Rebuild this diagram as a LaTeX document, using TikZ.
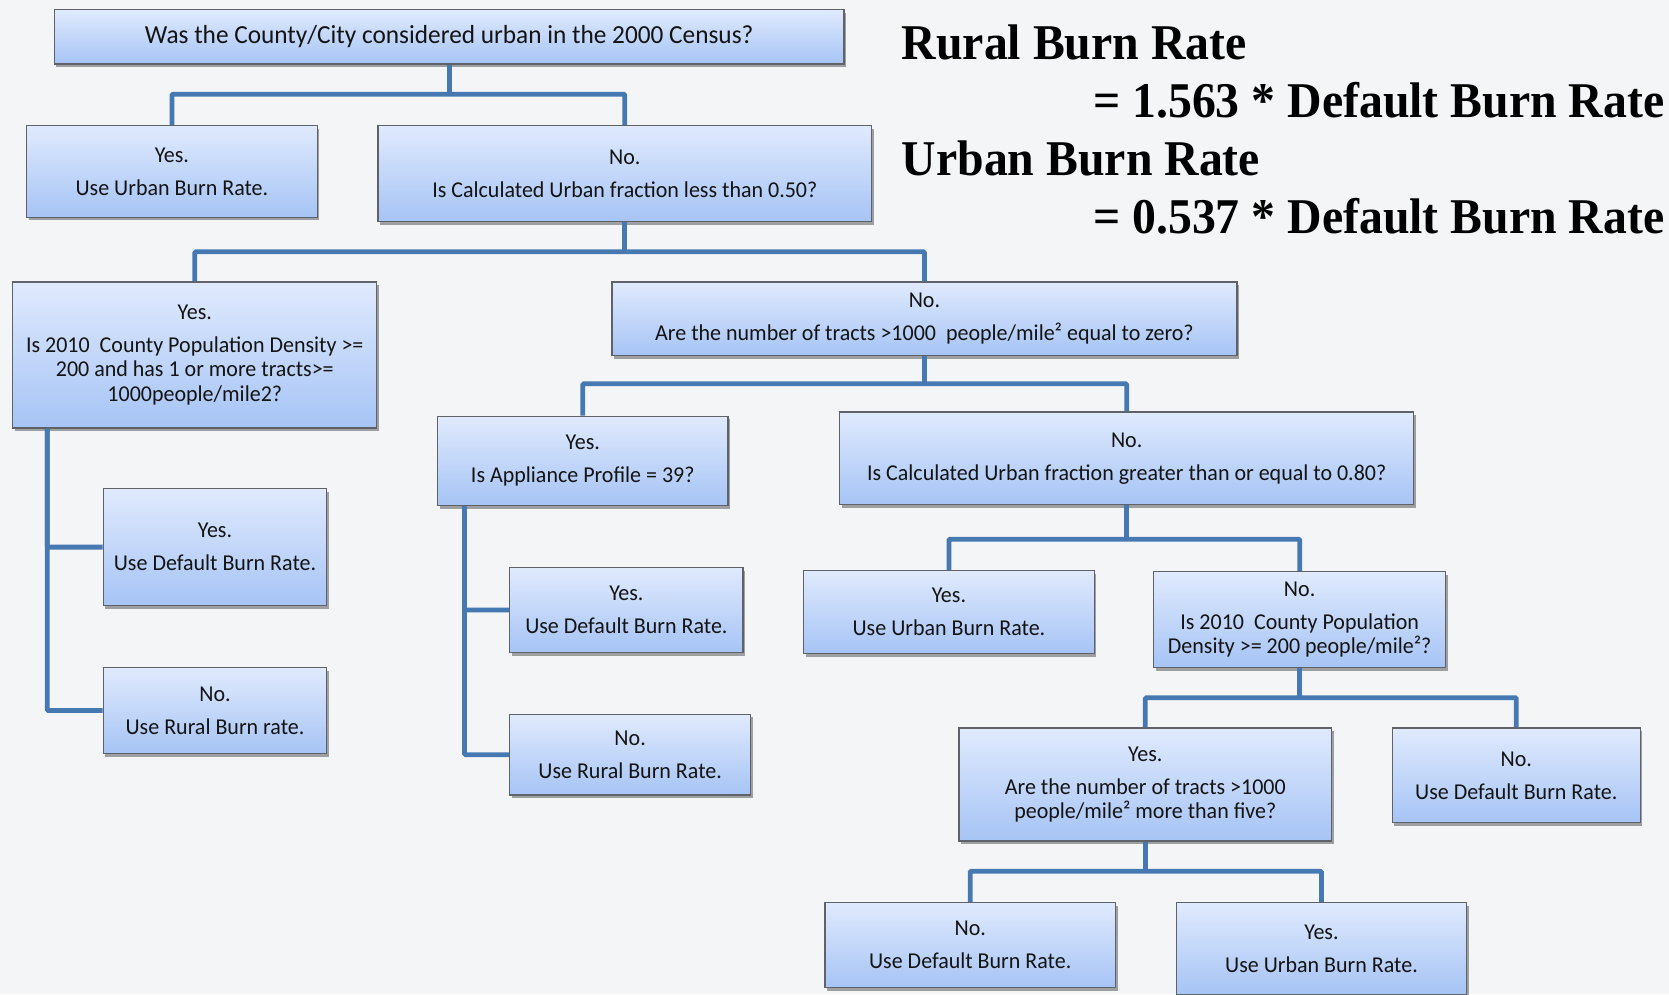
\documentclass[tikz,border=0pt]{standalone}
\usepackage{fontspec}
\setmainfont{Carlito}[FakeStretch=0.97]
\newfontfamily\headfont{Liberation Serif}[FakeStretch=0.955]
\usetikzlibrary{shadows}
\definecolor{pagebg}{RGB}{244,245,247}
\definecolor{boxtop}{RGB}{224,234,253}
\definecolor{boxbot}{RGB}{166,196,245}
\definecolor{boxline}{RGB}{95,98,104}
\definecolor{linkblue}{RGB}{70,120,178}
\definecolor{ink}{RGB}{20,20,20}
\tikzset{
  box/.style={draw=boxline, line width=1.2pt, top color=boxtop, bottom color=boxbot,
    rectangle, inner sep=2pt, align=center, text=ink,
    font=\fontsize{21.3}{23}\selectfont,
    drop shadow={shadow xshift=2pt, shadow yshift=-3pt, fill=black, opacity=0.35}},
  link/.style={draw=linkblue, line width=4.5pt, rounded corners=1pt},
  headline/.style={font=\headfont\bfseries\fontsize{47}{47}\selectfont, text=black, inner sep=0pt}
}
\newcommand{\gap}{\\[8pt]}
\begin{document}
\begin{tikzpicture}[x=1pt, y=-1pt]
  \fill[pagebg] (0,0) rectangle (1568,934);
  \useasboundingbox (0,0) rectangle (1568,934);

  % rate definitions
  \node[headline, anchor=base west] (rr) at (847,56) {Rural Burn Rate};
  \node[headline, anchor=base east] (rrv) at (1564,110) {= 1.563 * Default Burn Rate};
  \node[headline, anchor=base west] (ur) at (847,165) {Urban Burn Rate};
  \node[headline, anchor=base east] (urv) at (1564,219) {= 0.537 * Default Burn Rate};

  % decision boxes
  \node[box, minimum width=742, minimum height=51, font=\fontsize{24.5}{26}\selectfont] (top) at (422,34.5)
    {Was the County/City considered urban in the 2000 Census?};
  \node[box, minimum width=273, minimum height=86] (yes1) at (161.5,161)
    {Yes.\gap Use Urban Burn Rate.};
  \node[box, minimum width=464, minimum height=90] (no1) at (587,163)
    {No.\gap Is Calculated Urban fraction less than 0.50?};
  \node[box, minimum width=342, minimum height=137] (yes2) at (183,333.5)
    {Yes.\gap Is 2010~ County Population Density >=\\200 and has 1 or more tracts>=\\1000people/mile2?};
  \node[box, minimum width=587, minimum height=69] (no2) at (868.5,299.5)
    {No.\gap Are the number of tracts >1000~ people/mile² equal to zero?};
  \node[box, minimum width=210, minimum height=110] (yes3) at (202,514)
    {Yes.\gap Use Default Burn Rate.};
  \node[box, minimum width=210, minimum height=81] (no3) at (202,667.5)
    {No.\gap Use Rural Burn rate.};
  \node[box, minimum width=273, minimum height=84] (yes4) at (547.5,433)
    {Yes.\gap Is Appliance Profile = 39?};
  \node[box, minimum width=539, minimum height=87] (no4) at (1058.5,430.5)
    {No.\gap Is Calculated Urban fraction greater than or equal to 0.80?};
  \node[box, minimum width=219, minimum height=80] (yes5) at (588.5,573)
    {Yes.\gap Use Default Burn Rate.};
  \node[box, minimum width=226, minimum height=76] (no5) at (592,709)
    {No.\gap Use Rural Burn Rate.};
  \node[box, minimum width=273, minimum height=78] (yes6) at (891.5,575)
    {Yes.\gap Use Urban Burn Rate.};
  \node[box, minimum width=274, minimum height=90] (no6) at (1221,582)
    {No.\gap Is 2010~ County Population\\Density >= 200 people/mile²?};
  \node[box, minimum width=350, minimum height=106] (yes7) at (1076,737)
    {Yes.\gap Are the number of tracts >1000\\people/mile² more than five?};
  \node[box, minimum width=233, minimum height=89] (no7) at (1424.5,728.5)
    {No.\gap Use Default Burn Rate.};
  \node[box, minimum width=273, minimum height=80] (no8) at (911.5,888)
    {No.\gap Use Default Burn Rate.};
  \node[box, minimum width=273, minimum height=86] (yes8) at (1241.5,891)
    {Yes.\gap Use Urban Burn Rate.};

  % connectors
  \draw[link] (top.south) -- ++(0,28) coordinate (j1);
  \draw[link] (yes1.north) |- (j1) -| (no1.north);

  \draw[link] (no1.south) -- ++(0,28) coordinate (j2);
  \draw[link] (yes2.north) |- (j2) -| (no2.north);

  \draw[link] ([xshift=33pt]yes2.south west) coordinate (v1) |- (yes3.west);
  \draw[link] (v1) |- (no3.west);

  \draw[link] (no2.south) -- ++(0,26) coordinate (j3);
  \draw[link] (yes4.north) |- (j3) -| (no4.north);

  \draw[link] ([xshift=26pt]yes4.south west) coordinate (v2) |- (yes5.west);
  \draw[link] (v2) |- (no5.west);

  \draw[link] (no4.south) -- ++(0,32) coordinate (j4);
  \draw[link] (yes6.north) |- (j4) -| (no6.north);

  \draw[link] (no6.south) -- ++(0,28) coordinate (j5);
  \draw[link] (yes7.north) |- (j5) -| (no7.north);

  \draw[link] (yes7.south) -- ++(0,28) coordinate (j6);
  \draw[link] (no8.north) |- (j6) -| (yes8.north);
\end{tikzpicture}
\end{document}
